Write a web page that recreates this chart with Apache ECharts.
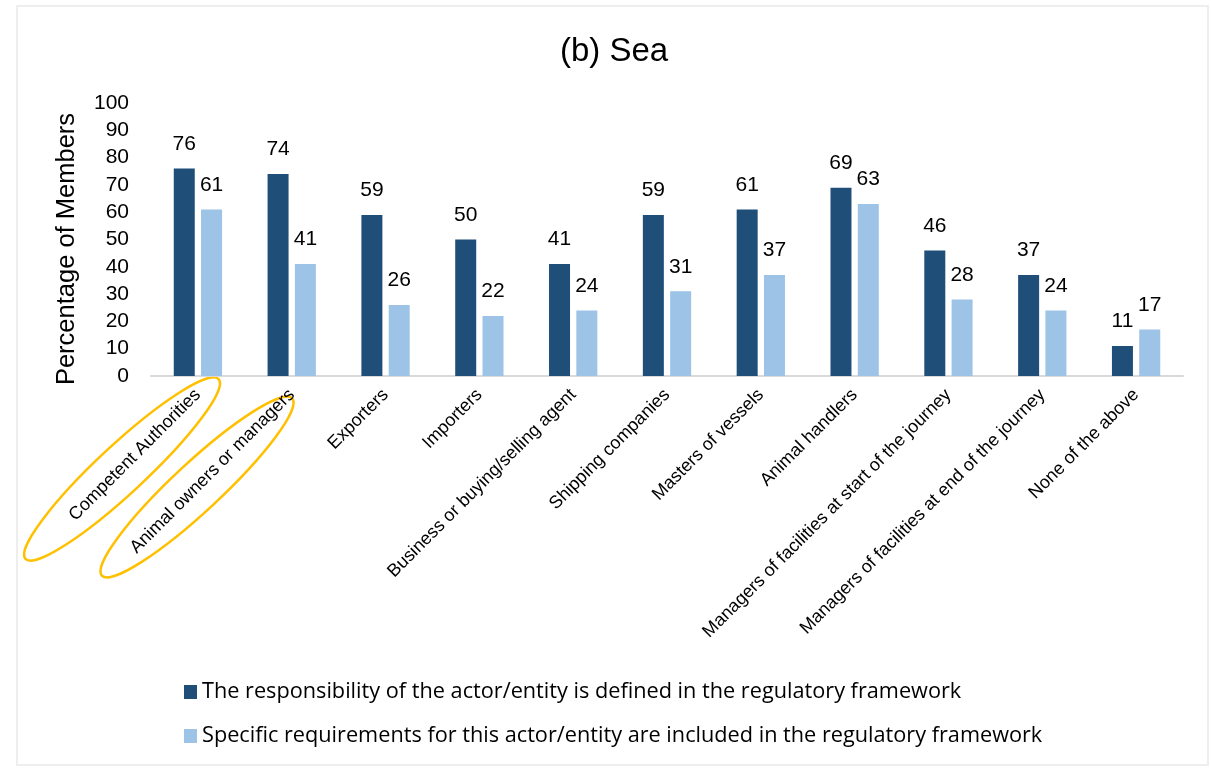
<!DOCTYPE html>
<html>
<head>
<meta charset="utf-8">
<script src="https://cdn.jsdelivr.net/npm/echarts@6/dist/echarts.min.js"></script>
<style>
html,body{margin:0;padding:0;background:#fff;}
#chart{width:1211px;height:768px;}
</style>
</head>
<body>
<div id="chart"></div>
<script>
const categories = [
  "Competent Authorities",
  "Animal owners or managers",
  "Exporters",
  "Importers",
  "Business or buying/selling agent",
  "Shipping companies",
  "Masters of vessels",
  "Animal handlers",
  "Managers of facilities at start of the journey",
  "Managers of facilities at end of the journey",
  "None of the above"
];
const seriesNames = [
  "The responsibility of the actor/entity is defined in the regulatory framework",
  "Specific requirements for this actor/entity are included in the regulatory framework"
];
const responsibilityDefined = [76, 74, 59, 50, 41, 59, 61, 69, 46, 37, 11];
const requirementsIncluded = [61, 41, 26, 22, 24, 31, 37, 63, 28, 24, 17];
const yTicks = [0, 100, 10];
const yAxisTitle = 'Percentage of Members';

const FONT = "'Liberation Sans', Arial, sans-serif";
const chart = echarts.init(document.getElementById('chart'), null, {renderer: 'canvas'});

const labelStyle = {show: true, position: 'top', distance: 14, color: '#000', fontSize: 21, fontFamily: FONT};

chart.setOption({
  animation: false,
  backgroundColor: '#fff',
  title: {
    text: '(b) Sea', left: 555, top: 30,
    textStyle: {fontSize: 33, fontWeight: 'normal', color: '#000', fontFamily: FONT}
  },
  legend: {
    orient: 'vertical', left: 179, top: 676, itemGap: 22,
    itemWidth: 13, itemHeight: 14, icon: 'rect',
    textStyle: {fontSize: 21.7, color: '#000', fontFamily: "'Open Sans', sans-serif"},
    data: seriesNames
  },
  grid: {left: 151, right: 28, top: 103, bottom: 392, containLabel: false},
  xAxis: {
    type: 'category', data: categories,
    axisLine: {lineStyle: {color: '#D9D9D9', width: 2}},
    axisTick: {show: false},
    axisLabel: {rotate: 45, interval: 0, fontSize: 18, color: '#000', fontFamily: FONT, margin: 16}
  },
  yAxis: {
    type: 'value', min: yTicks[0], max: yTicks[1], interval: yTicks[2],
    axisLine: {show: false}, axisTick: {show: false}, splitLine: {show: false},
    axisLabel: {fontSize: 21, color: '#000', fontFamily: FONT, margin: 22}
  },
  series: [
    {name: seriesNames[0], type: 'bar', data: responsibilityDefined, barWidth: 21, barGap: '30%',
     itemStyle: {color: '#1F4E79'}, label: labelStyle},
    {name: seriesNames[1], type: 'bar', data: requirementsIncluded, barWidth: 21,
     itemStyle: {color: '#9DC3E6'}, label: labelStyle}
  ],
  graphic: [
    {type: 'rect', shape: {x: 17, y: 6, width: 1191, height: 759}, style: {fill: 'none', stroke: '#EEEEEE', lineWidth: 2}, silent: true},
    {type: 'text', x: 67, y: 249, rotation: Math.PI / 2, silent: true,
     style: {text: yAxisTitle, fontSize: 25.5, fontFamily: FONT, fill: '#000', align: 'center', verticalAlign: 'middle'}},
    {type: 'ellipse', x: 122, y: 469, rotation: 0.75, shape: {cx: 0, cy: 0, rx: 132, ry: 24}, style: {fill: 'none', stroke: '#FFC000', lineWidth: 2.5}, silent: true},
    {type: 'ellipse', x: 197, y: 487, rotation: 0.75, shape: {cx: 0, cy: 0, rx: 130, ry: 24}, style: {fill: 'none', stroke: '#FFC000', lineWidth: 2.5}, silent: true}
  ]
});
</script>
</body>
</html>
